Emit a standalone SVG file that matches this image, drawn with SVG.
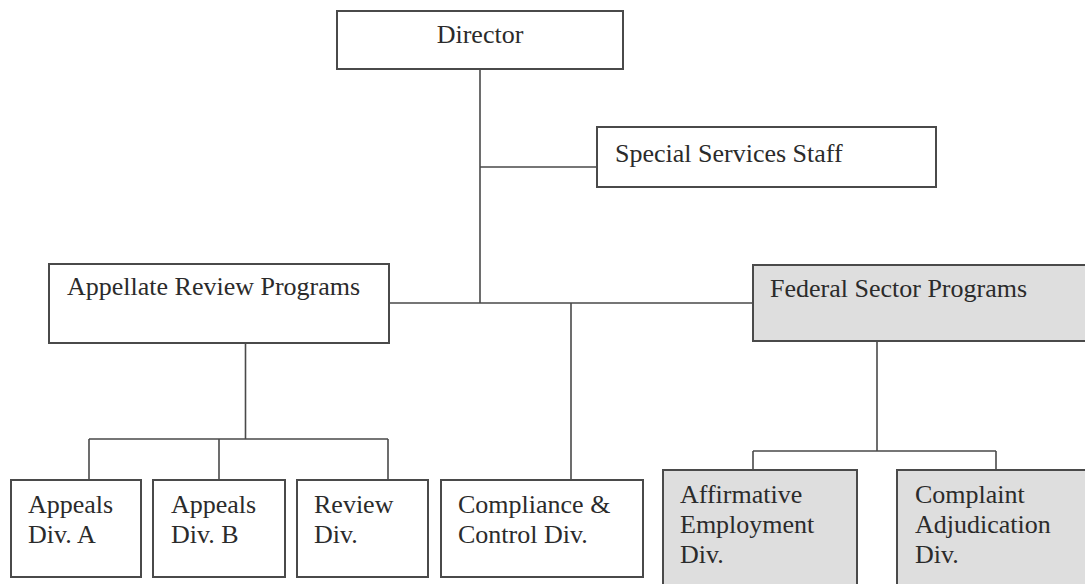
<svg xmlns="http://www.w3.org/2000/svg" width="1085" height="584" viewBox="0 0 1085 584">
<style>
.box{fill:#ffffff;stroke:#4a4a4a;stroke-width:2}
.gray{fill:#dedede;stroke:#4a4a4a;stroke-width:2}
text{font-family:'Liberation Serif','Tinos','DejaVu Serif',serif;font-size:26px;fill:#2b2b2b}
.c{fill:none;stroke:#4a4a4a;stroke-width:1.6}
</style>
<rect width="1085" height="584" fill="#ffffff"/>
<g id="connectors">
<path class="c" d="M480 69V303M480 167H597M389 303H753M571 303V480"/>
<path class="c" d="M245.5 343V439M89 439H388M89 439V480M219 439V480M388 439V480"/>
<path class="c" d="M877 341V451M753 451H996M753 451V470M996 451V470"/>
</g>
<g id="director"><rect class="box" x="337" y="11" width="286" height="58"/><text x="480" y="43" text-anchor="middle">Director</text></g>
<g id="special"><rect class="box" x="597" y="127" width="339" height="60"/><text x="615" y="162">Special Services Staff</text></g>
<g id="appellate"><rect class="box" x="49" y="264" width="340" height="79"/><text x="67" y="295">Appellate Review Programs</text></g>
<g id="federal"><rect class="gray" x="753" y="265" width="340" height="76"/><text x="770" y="297">Federal Sector Programs</text></g>
<g id="appealsA"><rect class="box" x="11" y="480" width="130" height="97"/><text x="28" y="513">Appeals</text><text x="28" y="543">Div. A</text></g>
<g id="appealsB"><rect class="box" x="153" y="480" width="132" height="97"/><text x="171" y="513">Appeals</text><text x="171" y="543">Div. B</text></g>
<g id="review"><rect class="box" x="297" y="480" width="131" height="97"/><text x="314" y="513">Review</text><text x="314" y="543">Div.</text></g>
<g id="compliance"><rect class="box" x="441" y="480" width="202" height="97"/><text x="458" y="513">Compliance &amp;</text><text x="458" y="543">Control Div.</text></g>
<g id="affirmative"><rect class="gray" x="663" y="470" width="194" height="124"/><text x="680" y="503">Affirmative</text><text x="680" y="533">Employment</text><text x="680" y="563">Div.</text></g>
<g id="complaint"><rect class="gray" x="897" y="470" width="200" height="124"/><text x="915" y="503">Complaint</text><text x="915" y="533">Adjudication</text><text x="915" y="563">Div.</text></g>
</svg>
